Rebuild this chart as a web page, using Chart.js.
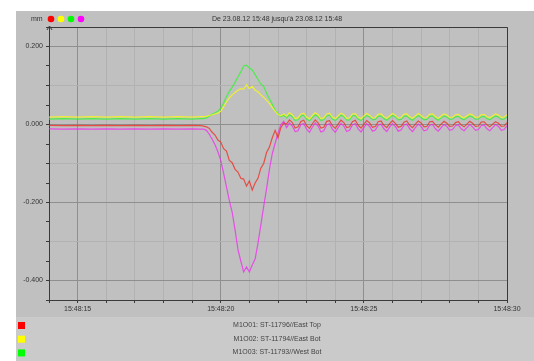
<!DOCTYPE html>
<html>
<head>
<meta charset="utf-8">
<script src="https://cdn.jsdelivr.net/npm/chart.js@4"></script>
<style>
  html, body { margin: 0; padding: 0; background: #fff; }
  canvas { display: block; }
</style>
</head>
<body>
<canvas id="chart" width="534" height="361"></canvas>
<script>
// temps en secondes après 15:48:00
const times = [
  14.0, 14.5, 15.0, 15.5, 16.0, 16.5, 17.0, 17.5, 18.0, 18.5, 19.0, 19.3,
  19.4, 19.5, 19.6, 19.7, 19.8, 19.9, 20.0, 20.1, 20.2, 20.3, 20.4, 20.5, 20.6, 20.7, 20.8,
  20.9, 21.0, 21.1, 21.2, 21.3, 21.4, 21.5, 21.6, 21.7, 21.8, 21.9, 22.0, 22.1, 22.2,
  22.3, 22.4, 22.5, 22.6, 22.7, 22.8, 22.9, 23.0, 23.1,
  23.2, 23.3, 23.4, 23.5, 23.6, 23.7, 23.8, 23.9, 24.0,
  24.1, 24.2, 24.3, 24.4, 24.5, 24.6, 24.7, 24.8, 24.9,
  25.0, 25.1, 25.2, 25.3, 25.4, 25.5, 25.6, 25.7, 25.8,
  25.9, 26.0, 26.1, 26.2, 26.3, 26.4, 26.5, 26.6, 26.7,
  26.8, 26.9, 27.0, 27.1, 27.2, 27.3, 27.4, 27.5, 27.6,
  27.7, 27.8, 27.9, 28.0, 28.1, 28.2, 28.3, 28.4, 28.5,
  28.6, 28.7, 28.8, 28.9, 29.0, 29.1, 29.2, 29.3, 29.4,
  29.5, 29.6, 29.7, 29.8, 29.9, 30.0
];

// M1O01 - East Top (rouge)
const eastTop = [
  -0.002, -0.003, -0.002, -0.003, -0.002, -0.003, -0.002, -0.003, -0.002, -0.003, -0.002, -0.003,
  -0.004, -0.006, -0.010, -0.020, -0.027, -0.040, -0.045, -0.062, -0.068, -0.092, -0.098, -0.115, -0.122, -0.138, -0.140,
  -0.158, -0.145, -0.168, -0.150, -0.138, -0.112, -0.100, -0.072, -0.058, -0.034, -0.015, -0.034, -0.008, 0.004,
  0.001, 0.012, 0.005, -0.009, -0.006, 0.008, 0.011, -0.003, -0.010,
  0.002, 0.012, 0.004, -0.009, -0.007, 0.008, 0.010, -0.003, -0.010,
  0.001, 0.011, 0.005, -0.008, -0.006, 0.007, 0.011, -0.002, -0.009,
  0.001, 0.010, 0.004, -0.007, -0.005, 0.007, 0.009, -0.002, -0.008,
  0.002, 0.010, 0.003, -0.007, -0.005, 0.006, 0.009, -0.002, -0.008,
  0.001, 0.009, 0.004, -0.006, -0.005, 0.007, 0.008, -0.001, -0.007,
  0.001, 0.008, 0.003, -0.005, -0.004, 0.005, 0.007, -0.001, -0.006,
  0.001, 0.008, 0.003, -0.005, -0.004, 0.006, 0.007, -0.001, -0.006,
  0.001, 0.007, 0.003, -0.005, -0.004, 0.005
];

// M1O02 - East Bot (jaune)
const eastBot = [
  0.019, 0.020, 0.019, 0.020, 0.019, 0.020, 0.019, 0.020, 0.019, 0.020, 0.019, 0.020,
  0.020, 0.021, 0.023, 0.025, 0.027, 0.029, 0.034, 0.045, 0.058, 0.068, 0.076, 0.082, 0.088, 0.092, 0.090,
  0.102, 0.092, 0.098, 0.088, 0.084, 0.076, 0.070, 0.062, 0.054, 0.044, 0.034, 0.026, 0.022, 0.027,
  0.022, 0.030, 0.025, 0.015, 0.017, 0.027, 0.029, 0.019, 0.014,
  0.023, 0.030, 0.025, 0.015, 0.017, 0.027, 0.029, 0.019, 0.015,
  0.022, 0.029, 0.025, 0.016, 0.017, 0.027, 0.028, 0.019, 0.015,
  0.022, 0.028, 0.024, 0.017, 0.018, 0.026, 0.027, 0.020, 0.016,
  0.022, 0.028, 0.024, 0.017, 0.018, 0.026, 0.027, 0.020, 0.016,
  0.022, 0.028, 0.023, 0.017, 0.018, 0.026, 0.027, 0.020, 0.016,
  0.022, 0.027, 0.024, 0.018, 0.019, 0.025, 0.026, 0.020, 0.017,
  0.022, 0.027, 0.024, 0.018, 0.019, 0.025, 0.026, 0.020, 0.017,
  0.022, 0.027, 0.024, 0.018, 0.019, 0.025
];

// M1O03 - West Bot (vert)
const westBot = [
  0.014, 0.015, 0.014, 0.015, 0.014, 0.015, 0.014, 0.015, 0.014, 0.015, 0.014, 0.015,
  0.015, 0.017, 0.022, 0.026, 0.030, 0.034, 0.042, 0.055, 0.072, 0.085, 0.096, 0.108, 0.122, 0.135, 0.150,
  0.152, 0.145, 0.140, 0.128, 0.116, 0.104, 0.098, 0.080, 0.066, 0.052, 0.036, 0.028, 0.020, 0.024,
  0.017, 0.025, 0.020, 0.010, 0.012, 0.022, 0.024, 0.014, 0.009,
  0.018, 0.025, 0.020, 0.010, 0.012, 0.022, 0.024, 0.014, 0.010,
  0.017, 0.024, 0.020, 0.011, 0.012, 0.022, 0.023, 0.014, 0.010,
  0.017, 0.023, 0.019, 0.012, 0.013, 0.021, 0.022, 0.015, 0.011,
  0.017, 0.023, 0.019, 0.012, 0.013, 0.021, 0.022, 0.015, 0.011,
  0.017, 0.023, 0.018, 0.012, 0.013, 0.021, 0.022, 0.015, 0.011,
  0.017, 0.022, 0.019, 0.013, 0.014, 0.020, 0.021, 0.015, 0.012,
  0.017, 0.022, 0.019, 0.013, 0.014, 0.020, 0.021, 0.015, 0.012,
  0.017, 0.022, 0.019, 0.013, 0.014, 0.020
];

// M1O04 - West Top (magenta)
const westTop = [
  -0.011, -0.012, -0.011, -0.012, -0.011, -0.012, -0.011, -0.012, -0.011, -0.012, -0.011, -0.012,
  -0.012, -0.015, -0.025, -0.038, -0.052, -0.070, -0.092, -0.125, -0.160, -0.195, -0.225, -0.270, -0.320, -0.350, -0.378,
  -0.365, -0.378, -0.360, -0.345, -0.305, -0.258, -0.210, -0.165, -0.115, -0.075, -0.048, -0.022, 0.000, 0.008,
  -0.008, 0.004, -0.004, -0.018, -0.016, 0.000, 0.002, -0.012, -0.020,
  -0.007, 0.004, -0.004, -0.019, -0.016, -0.001, 0.002, -0.012, -0.020,
  -0.008, 0.003, -0.004, -0.018, -0.015, -0.001, 0.002, -0.011, -0.019,
  -0.008, 0.002, -0.005, -0.017, -0.014, -0.002, 0.001, -0.011, -0.018,
  -0.007, 0.002, -0.005, -0.017, -0.014, -0.002, 0.001, -0.011, -0.018,
  -0.008, 0.001, -0.005, -0.016, -0.014, -0.002, 0.000, -0.011, -0.017,
  -0.008, 0.000, -0.005, -0.015, -0.013, -0.003, -0.001, -0.011, -0.016,
  -0.008, 0.000, -0.006, -0.015, -0.013, -0.003, -0.001, -0.011, -0.016,
  -0.008, 0.000, -0.005, -0.015, -0.013, -0.003
];

const seriesLabels = [
  'M1O01: ST-11796//East Top',
  'M1O02: ST-11794//East Bot',
  'M1O03: ST-11793//West Bot',
  'M1O04: ST-11795//West Top'
];
const seriesColors = ['#ff0000', '#ffff00', '#00ff00', '#ff00ff'];
const lineColors = ['rgba(240,40,30,0.75)', 'rgba(250,250,20,0.8)', 'rgba(40,250,40,0.75)', 'rgba(240,40,240,0.75)'];
const xTickLabels = { 15: '15:48:15', 20: '15:48:20', 25: '15:48:25', 30: '15:48:30' };
const title = "De 23.08.12 15:48 jusqu'à 23.08.12 15:48";
const unit = 'mm';

const FONT = '"Liberation Sans", Arial, sans-serif';

function toPoints(values) {
  return values.map((v, i) => ({ x: times[i], y: v }));
}

const allValues = [eastTop, eastBot, westBot, westTop];

// fond gris, cadre, en-tête et légende
const decor = {
  id: 'decor',
  beforeDraw(chart) {
    const ctx = chart.ctx;
    ctx.save();
    ctx.fillStyle = '#ffffff';
    ctx.fillRect(0, 0, chart.width, chart.height);
    ctx.fillStyle = '#c0c0c0';
    ctx.fillRect(16, 11, chart.width - 16, 306);
    ctx.fillStyle = '#cacaca';
    ctx.fillRect(16, 317, chart.width - 16, chart.height - 317);
    ctx.restore();
  },
  afterDraw(chart) {
    const ctx = chart.ctx;
    const a = chart.chartArea;
    ctx.save();
    // cadre
    ctx.strokeStyle = '#3a3a3a';
    ctx.lineWidth = 1;
    ctx.beginPath();
    ctx.moveTo(Math.round(a.left) + 0.5, Math.round(a.top) + 0.5);
    ctx.lineTo(Math.round(a.right) + 0.5, Math.round(a.top) + 0.5);
    ctx.lineTo(Math.round(a.right) + 0.5, Math.round(a.bottom) + 0.5);
    ctx.stroke();
    // petite flèche en haut de l'axe Y
    ctx.beginPath();
    ctx.moveTo(a.left - 2, a.top + 3);
    ctx.lineTo(a.left + 0.5, a.top - 1);
    ctx.lineTo(a.left + 3, a.top + 3);
    ctx.stroke();

    // en-tête
    ctx.fillStyle = '#333';
    ctx.font = '7px ' + FONT;
    ctx.textBaseline = 'middle';
    ctx.textAlign = 'left';
    ctx.fillText(unit, 31, 19);
    seriesColors.forEach((c, i) => {
      ctx.beginPath();
      ctx.fillStyle = c;
      ctx.arc(51 + i * 10, 19, 3.3, 0, Math.PI * 2);
      ctx.fill();
    });
    ctx.fillStyle = '#333';
    ctx.textAlign = 'center';
    ctx.fillText(title, 277, 19);

    // légende
    seriesLabels.forEach((lbl, i) => {
      const y = 325 + i * 13.7;
      ctx.fillStyle = seriesColors[i];
      ctx.fillRect(18, y - 3, 7, 7);
      ctx.fillStyle = '#444';
      ctx.fillText(lbl, 277, y);
    });
    ctx.restore();
  }
};

function isMultiple(v, step) {
  const r = v / step;
  return Math.abs(r - Math.round(r)) < 1e-6;
}

const chart = new Chart(document.getElementById('chart').getContext('2d'), {
  type: 'line',
  data: {
    datasets: allValues.map((vals, i) => ({
      label: seriesLabels[i],
      data: toPoints(vals),
      borderColor: lineColors[i],
      borderWidth: 1.2,
      pointRadius: 0,
      tension: 0,
      fill: false
    }))
  },
  options: {
    responsive: false,
    animation: false,
    layout: { padding: { left: 16, top: 27, right: 27, bottom: 44 } },
    plugins: { legend: { display: false }, tooltip: { enabled: false } },
    scales: {
      x: {
        type: 'linear',
        min: 14,
        max: 30,
        afterFit: s => { s.height = 17; },
        border: { color: '#3a3a3a' },
        grid: {
          color: c => isMultiple(c.tick.value, 5) ? '#8f8f8f' : '#b2b2b2',
          tickColor: '#3a3a3a',
          tickLength: 3
        },
        ticks: {
          stepSize: 1,
          autoSkip: false,
          maxRotation: 0,
          padding: 2,
          color: '#333',
          font: { family: FONT, size: 7 },
          callback: v => xTickLabels[Math.round(v)] && isMultiple(v, 1) ? xTickLabels[Math.round(v)] : ''
        }
      },
      y: {
        min: -0.45,
        max: 0.25,
        afterFit: s => { s.width = 33; },
        border: { color: '#3a3a3a' },
        grid: {
          color: c => isMultiple(c.tick.value, 0.2) ? '#8f8f8f'
            : (isMultiple(c.tick.value, 0.1) ? '#b2b2b2' : 'rgba(0,0,0,0)'),
          tickColor: '#3a3a3a',
          tickLength: 3
        },
        ticks: {
          stepSize: 0.05,
          autoSkip: false,
          padding: 3,
          color: '#333',
          font: { family: FONT, size: 7 },
          callback: v => {
            if (!isMultiple(v, 0.2)) return '';
            const r = Math.round(v * 1000) / 1000;
            return (r === 0 ? 0 : r).toFixed(3);
          }
        }
      }
    }
  },
  plugins: [decor]
});
</script>
</body>
</html>
